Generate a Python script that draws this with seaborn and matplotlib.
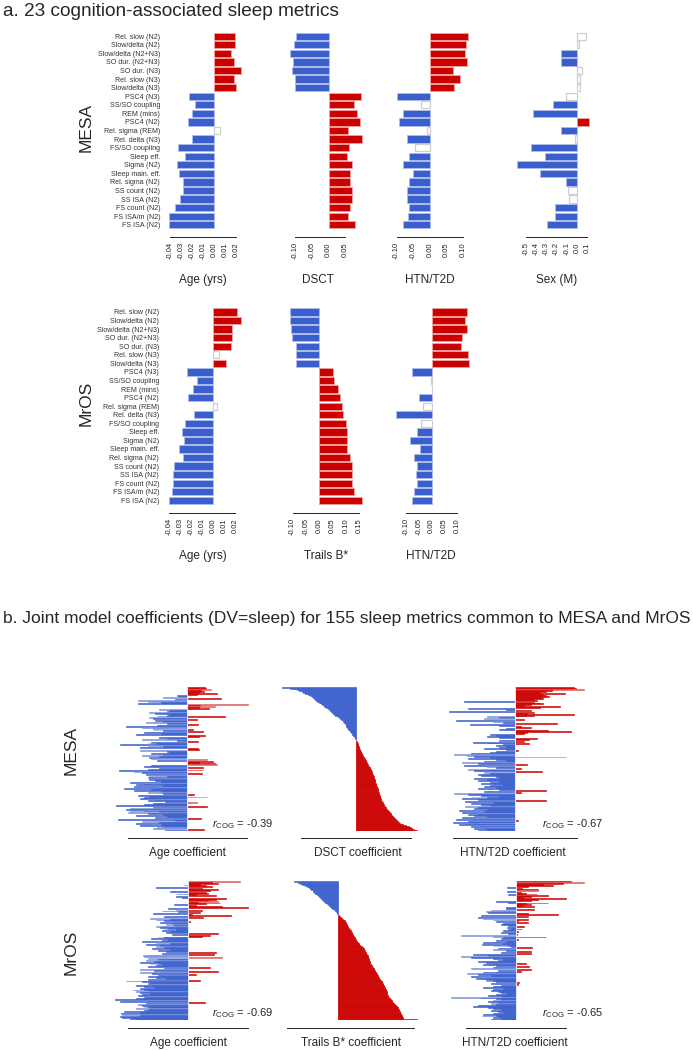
import numpy as np
import matplotlib
matplotlib.use("Agg")
import matplotlib.pyplot as plt
import seaborn as sns

sns.set_style("white")
plt.rcParams['font.family'] = ['Liberation Sans', 'DejaVu Sans']
plt.rcParams['mathtext.fontset'] = 'custom'
plt.rcParams['mathtext.rm'] = 'Liberation Sans'
plt.rcParams['mathtext.it'] = 'Liberation Sans:italic'

# ---------------- part a data ----------------
metrics = ["Rel. slow (N2)", "Slow/delta (N2)", "Slow/delta (N2+N3)", "SO dur. (N2+N3)",
           "SO dur. (N3)", "Rel. slow (N3)", "Slow/delta (N3)", "PSC4 (N3)", "SS/SO coupling",
           "REM (mins)", "PSC4 (N2)", "Rel. sigma (REM)", "Rel. delta (N3)", "FS/SO coupling",
           "Sleep eff.", "Sigma (N2)", "Sleep main. eff.", "Rel. sigma (N2)", "SS count (N2)",
           "SS ISA (N2)", "FS count (N2)", "FS ISA/m (N2)", "FS ISA (N2)"]

mesa_age = [0.019, 0.019, 0.015, 0.018, 0.0245, 0.018, 0.020, -0.0227, -0.0178, -0.020,
            -0.0236, 0.005, -0.0206, -0.033, -0.027, -0.0336, -0.032, -0.0285, -0.0285,
            -0.031, -0.0355, -0.041, -0.041]
mesa_age_ns = [11]
mesa_dsct = [-0.099, -0.105, -0.115, -0.107, -0.109, -0.102, -0.101, 0.097, 0.075, 0.086,
             0.093, 0.057, 0.101, 0.062, 0.054, 0.070, 0.065, 0.063, 0.070, 0.069, 0.063,
             0.059, 0.080]
mesa_dsct_ns = []
mesa_htn = [0.115, 0.109, 0.105, 0.111, 0.070, 0.090, 0.073, -0.100, -0.028, -0.080, -0.094,
            -0.010, -0.069, -0.044, -0.064, -0.080, -0.052, -0.064, -0.068, -0.070, -0.063,
            -0.067, -0.080]
mesa_htn_ns = [8, 11, 13]
mesa_sex = [0.085, 0.016, -0.16, -0.16, 0.049, 0.03, 0.025, -0.105, -0.24, -0.43, 0.12,
            -0.155, -0.023, -0.455, -0.31, -0.585, -0.36, -0.108, -0.09, -0.08, -0.22,
            -0.215, -0.29]
mesa_sex_ns = [0, 1, 4, 5, 6, 7, 12, 18, 19]

mros_age = [0.0215, 0.0255, 0.0173, 0.017, 0.0164, 0.0052, 0.0115, -0.024, -0.0152, -0.0185,
            -0.0233, 0.0033, -0.0176, -0.026, -0.0285, -0.0264, -0.031, -0.0273, -0.0358,
            -0.0367, -0.0364, -0.0379, -0.040]
mros_age_ns = [5, 11]
mros_trails = [-0.110, -0.109, -0.106, -0.103, -0.088, -0.088, -0.088, 0.051, 0.055, 0.071,
               0.079, 0.086, 0.090, 0.099, 0.1025, 0.1025, 0.105, 0.116, 0.121, 0.1225,
               0.124, 0.131, 0.161]
mros_trails_ns = []
mros_htn = [0.138, 0.133, 0.138, 0.121, 0.114, 0.142, 0.146, -0.079, -0.003, 0.0, -0.049,
            -0.033, -0.139, -0.041, -0.059, -0.087, -0.045, -0.068, -0.059, -0.062, -0.057,
            -0.070, -0.079]
mros_htn_ns = [8, 9, 11, 13]

# ---------------- part b data (155 metrics, unlabeled tick units) ----------------
mesa_b_age = [0.9, 0.95, 0.8, 1.2, 0.7, 0.85, 0.6, 1.5, 0.5, -0.5,
              -0.4, -1.2, 1.7, -0.6, -2.5, -2.0, -1.3, -0.8, -2.5, 3.05,
              0.65, 1.4, 0.6, 1.1, -1.4, -0.9, -1.0, -1.9, -1.6, -0.9,
              -1.0, -1.5, 1.9, -1.9, -1.7, 0.5, -1.6, -1.2, -2.1, -1.0,
              0.55, -1.5, -3.1, -2.3, -1.7, 0.3, -1.7, -1.2, 0.8, -2.2,
              -1.3, -2.6, 0.9, 0.6, -1.4, -1.0, -2.3, -0.5, 0.55, -1.8,
              -2.0, -1.5, -3.4, -2.0, -1.2, -2.4, 0.55, 0.6, -2.4, -1.0,
              -0.9, -1.8, -1.2, -2.3, -1.4, -0.9, -1.9, -1.8, 1.0, -1.5,
              1.3, 0.6, 1.4, 1.5, -1.8, -2.2, 0.8, -1.4, -2.0, 0.8,
              -3.45, -2.7, -2.3, 0.75, -2.1, -1.9, -1.0, -2.0, -1.5, -1.9,
              -1.6, -1.3, -2.9, -2.2, -1.4, -2.6, -1.2, -2.7, -1.5, -3.2,
              -1.8, -2.7, -1.3, -2.0, -1.2, 0.35, -2.5, -1.9, 1.0, -2.2,
              -2.4, -1.6, -2.0, -1.1, 0.5, -1.7, -2.2, -3.6, 1.0, -1.7,
              -2.9, -3.1, -2.2, -2.9, -1.4, -3.0, -2.0, -1.2, -2.6, -1.0,
              -1.6, 0.7, -3.5, -0.6, -2.3, -1.4, -2.6, -1.8, -1.3, -2.4,
              -1.2, -1.5, -1.7, 0.85, -1.1]
mesa_b_age_sig = ("1110111111" "1011001110" "1011011011" "1110111101" "1110010111"
                  "1111110111" "0110111101" "1110111001" "1110111111" "1011101101"
                  "1110111101" "1110111101" "1011011111" "0101101111" "1111011011" "10011")

mesa_b_dsct = [-4.0, -3.6, -3.4, -3.2, -3.1, -2.95, -2.85, -2.75, -2.6, -2.5,
               -2.4, -2.35, -2.3, -2.2, -2.15, -2.1, -2.0, -1.95, -1.9, -1.85,
               -1.75, -1.7, -1.6, -1.5, -1.45, -1.4, -1.35, -1.3, -1.25, -1.2,
               -1.1, -1.05, -0.95, -0.9, -0.85, -0.8, -0.7, -0.68, -0.65, -0.6,
               -0.55, -0.5, -0.5, -0.45, -0.42, -0.4, -0.35, -0.3, -0.28, -0.25,
               -0.2, -0.18, -0.15, -0.1, -0.05, -0.02,
               0.02, 0.04, 0.06, 0.08, 0.1, 0.12, 0.14, 0.15, 0.17, 0.19, 0.21, 0.23, 0.25,
               0.28, 0.3, 0.33, 0.36, 0.38, 0.41, 0.44, 0.47, 0.5, 0.52, 0.55, 0.58, 0.61,
               0.64, 0.67, 0.7, 0.74, 0.78,
               0.8, 0.82, 0.84, 0.86, 0.88, 0.9, 0.92, 0.94, 0.96, 0.98, 1.0, 1.02, 1.04, 1.06,
               1.07, 1.08, 1.1, 1.11, 1.12, 1.14, 1.16, 1.18, 1.2, 1.22, 1.24, 1.25, 1.26,
               1.28, 1.3, 1.31, 1.32, 1.34, 1.35, 1.37, 1.38, 1.4,
               1.43, 1.47, 1.5, 1.53, 1.56, 1.6, 1.64, 1.68, 1.72, 1.75, 1.8, 1.84, 1.88,
               1.92, 1.96, 2.0, 2.05,
               2.1, 2.15, 2.2, 2.25, 2.3, 2.35, 2.4, 2.5, 2.6, 2.75, 2.9, 3.0, 3.1, 3.2, 3.35]

mesa_b_htn = [1.9, 1.95, 1.7, 2.2, 1.2, 1.0, 0.8, 1.6, 0.9, 1.0,
              1.1, 0.85, 0.9, 0.6, 0.7, -1.65, 0.6, 0.8, 0.9, 0.5,
              0.3, 1.45, 0.8, -1.5, -0.3, 0.5, -2.1, 0.6, 0.4, 1.9,
              0.6, 0.4, -0.9, -0.5, -1.0, 0.3, -1.9, -0.7, -0.4, 1.35,
              -1.45, -0.5, 0.2, 0.5, -0.3, -0.5, 0.5, 1.05, 1.8, 0.4,
              0.3, -0.8, -0.6, -0.9, -0.5, 0.7, 0.45, -0.5, 0.3, -1.35,
              -0.9, 0.45, -0.4, -0.6, -0.3, -0.5, -1.0, -0.3, 0.1, -0.6,
              -0.8, -1.4, -1.97, -1.55, -1.3, 1.65, -0.8, -1.5, -0.6, -0.3,
              -1.0, -1.7, -1.2, 0.4, -1.65, -0.9, -0.6, 0.2, -1.5, -0.8,
              -1.3, 0.85, -1.0, -0.8, -1.2, -1.1, -0.6, -0.5, -1.3, -0.9,
              -1.2, -0.5, -0.8, -1.1, -0.7, -0.4, -0.8, -1.0, -0.6, -1.2,
              -0.5, 1.0, -1.0, 0.2, -1.95, -1.5, -1.1, -0.5, -1.4, -0.9,
              -1.7, -1.2, 1.0, -1.6, -0.7, -1.4, -1.1, -0.8, -1.6, -1.2,
              -1.3, -0.9, -1.8, -1.5, -1.0, -1.7, -1.2, -1.5, -1.3, -0.9,
              -1.7, -1.4, -1.9, 0.1, -1.5, -2.0, -1.2, -1.6, -1.8, -1.1,
              -1.4, -1.0, -1.3, -0.9, -1.2]
mesa_b_htn_sig = ("1110111111" "1111111111" "1111111111" "1101011011" "1111111111"
                  "1111111111" "1111111111" "1100101111" "1011101101" "1101111111"
                  "1111111111" "1111011101" "1111111101" "1110110111" "1011110110" "10111")

mros_b_age = [2.6, 1.2, 1.5, 0.6, -0.2, 0.9, 1.2, -1.6, 0.7, 1.5,
              1.1, -0.9, 0.9, 1.0, -0.6, 0.4, 1.4, -0.6, -0.3, 1.9,
              1.4, 1.0, 1.5, 0.5, 1.6, 0.9, -0.7, 0.4, 1.7, 3.0,
              -1.0, -0.6, 0.7, -1.3, -0.5, 0.6, -1.75, 0.2, 2.15, -1.2,
              0.75, -1.9, -0.9, -1.6, -1.2, 0.1, -1.4, -0.8, -1.1, -0.7,
              -1.6, -1.4, -1.0, -1.2, -0.6, -1.3, -0.9, -1.1, 1.5, -0.8,
              1.1, 0.7, -1.5, -1.2, -1.85, -1.0, -1.3, -2.3, -1.6, -0.9,
              -2.1, -1.4, -1.0, -1.6, -1.2, -1.8, -0.9, -1.5, -1.1, 1.4,
              -1.3, 1.3, -2.0, -2.25, -2.2, 1.7, -2.0, -1.5, -2.1, -1.7,
              -2.4, -1.5, -1.9, -1.3, -1.6, -2.0, 1.1, -1.2, -2.4, -1.7,
              1.5, -1.4, -2.4, -1.8, 0.4, -1.5, -2.0, -1.6, -1.1, -2.0,
              0.6, -3.1, -2.3, -1.9, -2.0, -1.8, -2.6, -2.2, -1.7, -2.4,
              -2.2, -2.75, -2.0, -2.6, -2.4, -1.9, -2.3, -2.5, -2.0, -2.2,
              -2.3, -2.6, -3.65, -2.0, -3.4, 0.85, -2.1, -2.5, -2.3, -2.0,
              -2.2, -1.9, -2.6, -2.0, -2.2, -3.2, -2.4, -3.35, -3.3, -2.4,
              -2.5, -3.4, -3.3, -2.9, -2.6]
mros_b_age_sig = ("0111111111" "1111111111" "1101111111" "1011111111" "1011111101"
                  "0110111111" "1101111101" "1110111111" "1100000101" "1101111101"
                  "1101111111" "1111101111" "1110111101" "1110111011" "1101111101" "11111")

mros_b_trails = [-1.74, -1.6, -1.5, -1.42, -1.35, -1.3, -1.22, -1.15, -1.1, -1.05,
                 -1.0, -0.97, -0.93, -0.9, -0.86, -0.83, -0.8, -0.76, -0.72, -0.68,
                 -0.65, -0.6, -0.56, -0.52, -0.48, -0.44, -0.4, -0.36, -0.32, -0.28,
                 -0.22, -0.17, -0.12, -0.09, -0.07, -0.05, -0.03, -0.01,
                 0.05, 0.1, 0.14, 0.18, 0.22, 0.25, 0.28, 0.3, 0.32, 0.34, 0.36, 0.38, 0.4,
                 0.42, 0.44, 0.46, 0.48, 0.5, 0.52,
                 0.54, 0.56, 0.58, 0.6, 0.62, 0.64, 0.66, 0.68, 0.7, 0.73, 0.76, 0.79, 0.82,
                 0.85, 0.88, 0.92, 0.96, 1.0,
                 1.02, 1.04, 1.06, 1.08, 1.1, 1.12, 1.14, 1.16, 1.18, 1.2, 1.21, 1.22, 1.24,
                 1.25, 1.26, 1.27, 1.28, 1.3,
                 1.32, 1.35, 1.37, 1.4, 1.42, 1.44, 1.46, 1.48, 1.5, 1.52, 1.54, 1.56, 1.58,
                 1.6, 1.62, 1.64, 1.67, 1.7,
                 1.72, 1.74, 1.76, 1.78, 1.8, 1.82, 1.84, 1.86, 1.88, 1.9, 1.91, 1.92, 1.93,
                 1.94, 1.95, 1.96, 1.98, 2.0,
                 2.02, 2.05, 2.08, 2.1, 2.13, 2.16, 2.2, 2.24, 2.28, 2.32, 2.35, 2.37, 2.38,
                 2.4, 2.42, 2.44, 2.46, 2.48, 2.5, 2.52, 2.54, 2.55, 2.56, 2.58, 2.6, 3.15]

mros_b_htn = [2.2, 2.75, 1.9, 1.1, 0.3, 1.5, 0.5, -0.35, 0.25, 0.9,
              0.9, -0.35, 0.2, 0.4, 0.85, -0.3, 1.3, 0.6, 0.3, 2.0,
              0.9, 0.6, -0.8, -0.3, 1.3, 0.4, 0.6, 0.3, 0.75, -0.4,
              -0.4, 0.75, -1.0, -0.6, -1.2, -1.1, 0.5, 1.7, -1.4, 0.5,
              -1.5, -1.3, 0.5, -0.9, 0.1, -0.8, 0.5, -0.5, -0.6, -0.3,
              0.35, -0.35, -0.2, 0.25, -0.3, -0.5, 0.1, -0.6, -0.3, 0.05,
              -2.2, -0.9, 1.2, -0.5, -0.6, 0.1, -0.8, -0.4, -1.3, -0.5,
              -1.35, -0.3, -0.9, -0.2, 0.65, -0.7, -0.9, -0.4, 0.6, -0.6,
              0.6, -1.7, -0.8, -1.1, -2.2, -1.8, -0.9, -0.5, -0.7, -1.5,
              -1.2, 0.4, -1.1, -1.3, -0.8, 0.55, -0.9, -1.8, 0.6, -0.7,
              0.2, -0.8, -1.3, -1.95, -1.5, -1.0, -1.8, -1.4, -1.6, -1.2,
              -0.9, -1.2, -0.8, 0.15, -1.0, 0.1, -0.6, -0.9, -1.3, -0.5,
              -0.9, -0.5, -1.0, -0.7, -0.6, -0.4, -0.8, -1.1, -0.6, -2.6,
              -1.4, -0.8, -0.6, -0.9, -1.1, -0.7, -1.0, -0.8, -1.5, -1.7,
              -0.8, -1.1, -0.9, -0.6, -1.0, -0.7, -0.5, -0.9, -1.3, -0.8,
              -1.35, -0.7, -0.9, -0.6, -1.0]
mros_b_htn_sig = ("1011111111" "0111111111" "1111111111" "1101011111" "1011111111"
                  "1111111111" "0011111111" "1101110111" "1111011111" "1111111011"
                  "1110111011" "1111111111" "1111111110" "1110110111" "1111111111" "11111")

BLUE, RED = '#3A5FCD', '#CD0000'
BLUE_L, RED_L = '#7C91DC', '#DC5E5E'
INK = '#222222'

W, H = 693, 1050
fig = plt.figure(figsize=(W / 100, H / 100), dpi=100)


def px_axes(zero, scale, xlim, top, bottom):
    left = zero + xlim[0] * scale
    width = (xlim[1] - xlim[0]) * scale
    ax = fig.add_axes([left / W, 1 - bottom / H, width / W, (bottom - top) / H])
    return ax


def ftext(x, y, s, **kw):
    fig.text(x / W, 1 - y / H, s, **kw)


def style_bottom(ax, lo, hi, offset):
    sns.despine(ax=ax, left=True)
    ax.spines['bottom'].set_position(('outward', offset))
    ax.spines['bottom'].set_bounds(lo, hi)
    ax.spines['bottom'].set_linewidth(0.7)
    ax.spines['bottom'].set_color(INK)


def panel_a(vals, ns, zero, scale, xlim, top, bottom, ticks, fmt, show_labels):
    ax = px_axes(zero, scale, xlim, top, bottom)
    sns.barplot(x=vals, y=metrics, orient='h', width=0.85, errorbar=None, ax=ax)
    for i, p in enumerate(ax.patches):
        if i in ns:
            p.set_facecolor('white')
            p.set_edgecolor('#CFCFCF')
            p.set_linewidth(0.9)
        elif vals[i] < 0:
            p.set_facecolor(BLUE)
            p.set_edgecolor('#AEBDEB')
            p.set_linewidth(0.6)
        else:
            p.set_facecolor(RED)
            p.set_edgecolor('#EBA3A3')
            p.set_linewidth(0.6)
    ax.set_xlim(xlim)
    ax.set_ylim(len(metrics) - 0.5, -0.5)
    ticks = [round(t, 2) + 0.0 for t in ticks]
    style_bottom(ax, ticks[0], ticks[-1], 5.8)
    ax.set_xticks(ticks)
    ax.set_xticklabels([fmt % t for t in ticks])
    ax.tick_params(axis='x', length=2.6, width=0.7, pad=1.2, color=INK,
                   labelrotation=90, labelsize=5.5, labelcolor=INK)
    ax.set_xlabel('')
    ax.set_ylabel('')
    if show_labels:
        ax.tick_params(axis='y', length=0, pad=3.3, labelsize=5.1, labelcolor='#333333')
    else:
        ax.set_yticks([])
    ax.patch.set_alpha(0)
    return ax


def panel_b(vals, sig, zero, scale, xlim, top, bottom, tick_lo, tick_hi, offset):
    ax = px_axes(zero, scale, xlim, top, bottom)
    n = len(vals)
    sns.barplot(x=vals, y=np.arange(n), orient='h', width=1.0, linewidth=0,
                errorbar=None, ax=ax)
    for i, p in enumerate(ax.patches):
        dark = sig is None or sig[i] == '1'
        if vals[i] < 0:
            c = BLUE if dark else BLUE_L
        else:
            c = RED if dark else RED_L
        p.set_facecolor(c)
        p.set_edgecolor(c)
        p.set_linewidth(0.4)
    if sig is not None:
        ax.axvline(0, color='white', lw=0.6)
    ax.set_xlim(xlim)
    ax.set_ylim(n - 0.5, -0.5)
    style_bottom(ax, tick_lo, tick_hi, offset)
    ax.set_xticks(list(range(tick_lo, tick_hi + 1)))
    ax.set_xticklabels([])
    ax.set_yticks([])
    ax.set_xlabel('')
    ax.set_ylabel('')
    ax.tick_params(axis='x', length=3, width=0.7, color=INK)
    ax.patch.set_alpha(0)
    return ax


# ---------------- part a ----------------
ftext(3, 12, "a. 23 cognition-associated sleep metrics", fontsize=13.7, va='center')

t1 = np.arange(-0.04, 0.021, 0.01)
panel_a(mesa_age, mesa_age_ns, 214.3, 1100, (-0.045, 0.027), 32.0, 229.0, t1, '%.2f', True)
panel_a(mesa_dsct, mesa_dsct_ns, 328.7, 334, (-0.12, 0.105), 32.0, 229.0,
        np.arange(-0.10, 0.051, 0.05), '%.2f', False)
panel_a(mesa_htn, mesa_htn_ns, 430, 334, (-0.105, 0.12), 32.0, 229.0,
        np.arange(-0.10, 0.101, 0.05), '%.2f', False)
panel_a(mesa_sex, mesa_sex_ns, 577, 102, (-0.6, 0.13), 32.0, 229.0,
        np.arange(-0.5, 0.11, 0.1), '%.1f', False)

panel_a(mros_age, mros_age_ns, 213.3, 1100, (-0.045, 0.027), 307.6, 504.7, t1, '%.2f', True)
panel_a(mros_trails, mros_trails_ns, 319.3, 266.7, (-0.115, 0.165), 307.6, 504.7,
        np.arange(-0.10, 0.151, 0.05), '%.2f', False)
panel_a(mros_htn, mros_htn_ns, 431.7, 254, (-0.145, 0.15), 307.6, 504.7,
        np.arange(-0.10, 0.101, 0.05), '%.2f', False)

for x, s in [(203, "Age (yrs)"), (318, "DSCT"), (430, "HTN/T2D"), (557, "Sex (M)")]:
    ftext(x, 280, s, fontsize=8.5, ha='center', va='center')
for x, s in [(203, "Age (yrs)"), (326, "Trails B*"), (431, "HTN/T2D")]:
    ftext(x, 556, s, fontsize=8.5, ha='center', va='center')
ftext(86, 127, "MESA", fontsize=12.5, rotation=90, ha='center', va='center')
ftext(86, 403, "MrOS", fontsize=12.5, rotation=90, ha='center', va='center')

# ---------------- part b ----------------
ftext(3, 619, "b. Joint model coefficients (DV=sleep) for 155 sleep metrics common to MESA and MrOS",
      fontsize=12.5, va='center')

panel_b(mesa_b_age, mesa_b_age_sig, 187.3, 19.9, (-3.7, 3.2), 686.7, 831, -3, 3, 5.0)
panel_b(mesa_b_dsct, None, 355.6, 18.3, (-4.1, 3.5), 686.7, 831, -3, 3, 5.0)
panel_b(mesa_b_htn, mesa_b_htn_sig, 515, 31.2, (-2.2, 2.3), 686.7, 831, -2, 2, 5.0)

panel_b(mros_b_age, mros_b_age_sig, 188.3, 20, (-3.8, 3.2), 881, 1020, -3, 3, 5.5)
panel_b(mros_b_trails, None, 336.3, 25.7, (-1.9, 3.3), 881, 1020, -2, 3, 5.5)
panel_b(mros_b_htn, mros_b_htn_sig, 515.7, 25, (-2.8, 2.9), 881, 1020, -2, 2, 5.5)

for x, s in [(187, "Age coefficient"), (358, "DSCT coefficient"), (513, "HTN/T2D coefficient")]:
    ftext(x, 853, s, fontsize=8.5, ha='center', va='center')
for x, s in [(188, "Age coefficient"), (351, "Trails B* coefficient"), (515, "HTN/T2D coefficient")]:
    ftext(x, 1043, s, fontsize=8.5, ha='center', va='center')

r_cog = r'$r_{\mathrm{COG}}$'
ftext(212, 824, r_cog + " = -0.39", fontsize=8, va='center')
ftext(542, 824, r_cog + " = -0.67", fontsize=8, va='center')
ftext(212, 1013, r_cog + " = -0.69", fontsize=8, va='center')
ftext(542, 1013, r_cog + " = -0.65", fontsize=8, va='center')

ftext(71, 750, "MESA", fontsize=12.5, rotation=90, ha='center', va='center')
ftext(71, 952, "MrOS", fontsize=12.5, rotation=90, ha='center', va='center')

fig.savefig("out.png", dpi=100)
